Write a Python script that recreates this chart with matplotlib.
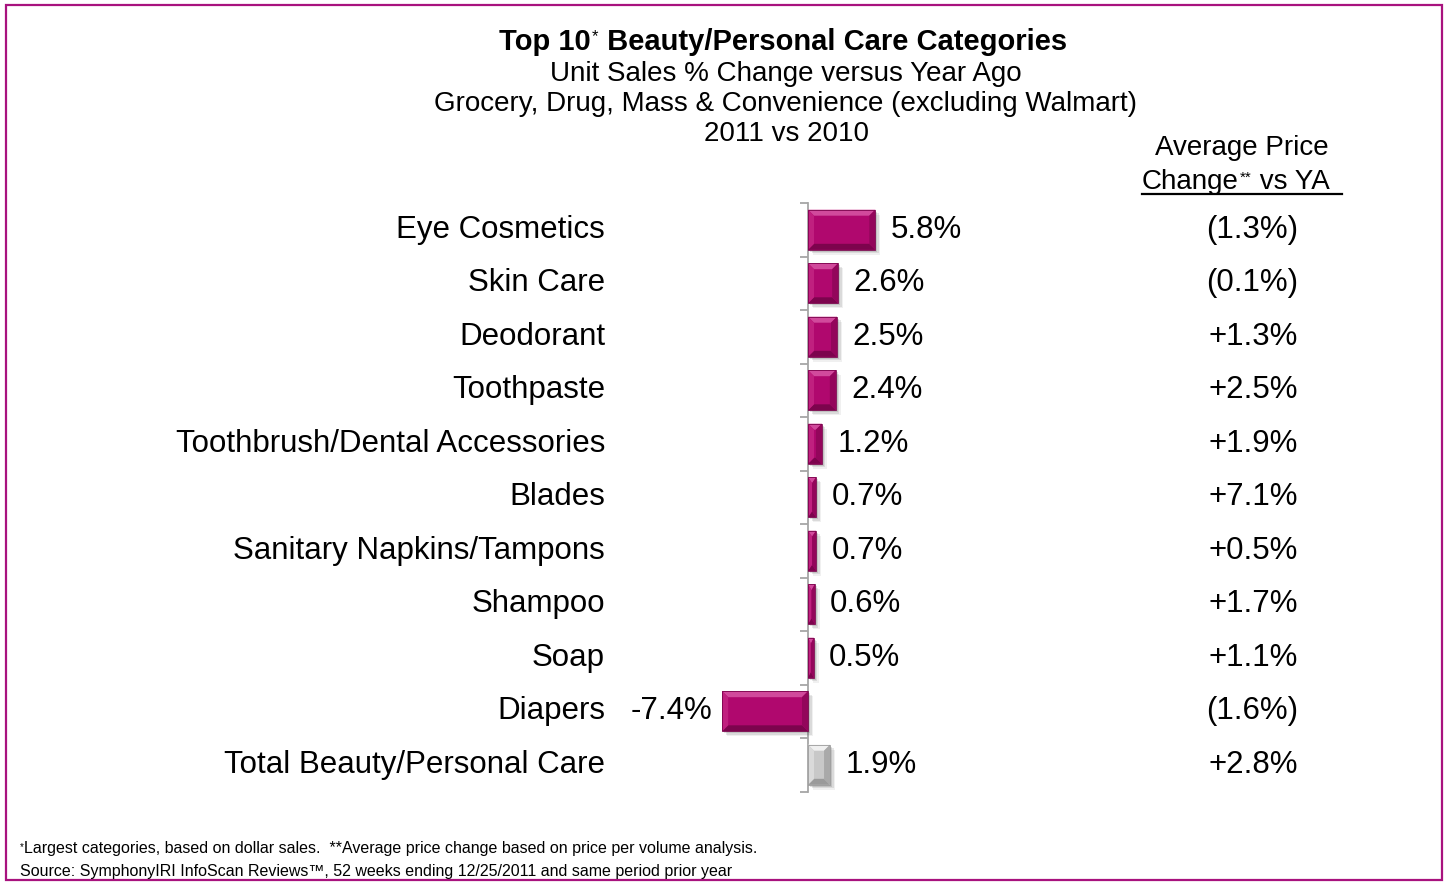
import numpy as np
import matplotlib
matplotlib.use("Agg")
import matplotlib.pyplot as plt
from matplotlib import transforms
from matplotlib.patches import Polygon, Rectangle
from matplotlib.lines import Line2D
from matplotlib import font_manager

# Category rows, top to bottom
categories = [
    "Eye Cosmetics", "Skin Care", "Deodorant", "Toothpaste",
    "Toothbrush/Dental Accessories", "Blades", "Sanitary Napkins/Tampons",
    "Shampoo", "Soap", "Diapers", "Total Beauty/Personal Care",
]
unit_change = [5.8, 2.6, 2.5, 2.4, 1.2, 0.7, 0.7, 0.6, 0.5, -7.4, 1.9]
price_change = ["(1.3%)", "(0.1%)", "+1.3%", "+2.5%", "+1.9%", "+7.1%",
                "+0.5%", "+1.7%", "+1.1%", "(1.6%)", "+2.8%"]

W, H = 1448, 884
MAGENTA = dict(face="#B0086E", top="#D14A9C", left="#C0207F",
               right="#93065B", bottom="#7C044D")
GRAY = dict(face="#C8C8C8", top="#F0F0F0", left="#DADADA",
            right="#A9A9A9", bottom="#9A9A9A")

installed = {f.name for f in font_manager.fontManager.ttflist}
FONT = "Liberation Sans"
NARROW = "Liberation Sans Narrow" if "Liberation Sans Narrow" in installed else FONT
plt.rcParams["font.family"] = FONT
ROW_FS = 22.5


def fx(px):
    return px / W


def fy(py):
    return 1 - py / H


fig = plt.figure(figsize=(W / 100, H / 100), dpi=100)

# plot area: zero line at x=808px, 11.6 px per percentage point
ax_left, ax_right = 700, 1000
ax_top, ax_bottom = 203, 791.5
px_per_pct = 11.6
ax = fig.add_axes([fx(ax_left), fy(ax_bottom),
                   (ax_right - ax_left) / W, (ax_bottom - ax_top) / H])
ax.set_xlim(-(808 - ax_left) / px_per_pct, (ax_right - 808) / px_per_pct)
ax.set_ylim(len(categories) - 0.5, -0.5)
ax.patch.set_alpha(0)

y = np.arange(len(categories))
colors = [MAGENTA["face"]] * (len(categories) - 1) + [GRAY["face"]]
bars = ax.barh(y, unit_change, height=0.75, color=colors, zorder=3)

# data units per pixel, used for bevel and shadow sizes
dx = 1 / px_per_pct
dy = len(categories) / (ax_bottom - ax_top)

for bar, val in zip(bars, unit_change):
    pal = GRAY if bar.get_facecolor()[0] > 0.7 else MAGENTA
    x0, w = bar.get_x(), bar.get_width()
    x0, x1 = min(x0, x0 + w), max(x0, x0 + w)
    y0 = bar.get_y()
    y1 = y0 + bar.get_height()
    bx = min(6 * dx, (x1 - x0) / 2)
    by = min(6 * dy, (y1 - y0) / 2)
    # soft drop shadow
    for k, a in [(5, 0.08), (3.5, 0.12), (2, 0.16)]:
        ax.add_patch(Rectangle((x0 + k * dx, y0 + k * dy), x1 - x0, y1 - y0,
                               facecolor="#404040", alpha=a, lw=0, zorder=2))
    faces = {
        "top": [(x0, y0), (x1, y0), (x1 - bx, y0 + by), (x0 + bx, y0 + by)],
        "bottom": [(x0, y1), (x1, y1), (x1 - bx, y1 - by), (x0 + bx, y1 - by)],
        "left": [(x0, y0), (x0 + bx, y0 + by), (x0 + bx, y1 - by), (x0, y1)],
        "right": [(x1, y0), (x1 - bx, y0 + by), (x1 - bx, y1 - by), (x1, y1)],
    }
    for side, pts in faces.items():
        ax.add_patch(Polygon(pts, closed=True, facecolor=pal[side],
                             lw=0, zorder=4))
    ax.add_patch(Rectangle((x0, y0), x1 - x0, y1 - y0, fill=False,
                           edgecolor=pal["bottom"], lw=0.6, zorder=5))

# value axis at zero with category separators
for s in ["top", "right", "bottom"]:
    ax.spines[s].set_visible(False)
ax.spines["left"].set_position(("data", 0))
ax.spines["left"].set_color("#A6A6A6")
ax.spines["left"].set_linewidth(1.3)
ax.spines["left"].set_zorder(1)
ax.set_xticks([])
ax.set_yticks(np.arange(-0.5, len(categories), 1))
ax.set_yticklabels([])
ax.tick_params(axis="y", direction="out", length=6, width=1.3, color="#A6A6A6")

row_tr = transforms.blended_transform_factory(fig.transFigure, ax.transData)
for i, (cat, val, pc) in enumerate(zip(categories, unit_change, price_change)):
    ax.text(fx(605), i, cat, transform=row_tr, ha="right", va="center",
            fontsize=ROW_FS)
    ax.text(fx(1298), i, pc, transform=row_tr, ha="right", va="center",
            fontsize=ROW_FS)
    if val >= 0:
        ax.annotate(f"{val:.1f}%", (val, i), xytext=(11, 0),
                    textcoords="offset points", ha="left", va="center",
                    fontsize=ROW_FS)
    else:
        ax.annotate(f"{val:.1f}%", (val, i), xytext=(-7, 0),
                    textcoords="offset points", ha="right", va="center",
                    fontsize=ROW_FS)

# titles
t1 = fig.text(fx(499), fy(50), "Top 10", fontsize=21, fontweight="bold",
              va="baseline")
star = ax.annotate("*", xy=(1, 1), xycoords=t1, xytext=(1, -1),
                   textcoords="offset points", fontsize=12, va="top", ha="left")
ax.annotate(" Beauty/Personal Care Categories", xy=(1, 0), xycoords=(star, t1),
            fontsize=21, fontweight="bold", va="bottom", ha="left")

subtitles = ["Unit Sales % Change versus Year Ago",
             "Grocery, Drug, Mass & Convenience (excluding Walmart)",
             "2011 vs 2010"]
for k, line in enumerate(subtitles):
    fig.text(fx(786), fy(81 + 30 * k), line, fontsize=20, ha="center",
             va="baseline")

fig.text(fx(1242), fy(155), "Average Price", fontsize=20, ha="center",
         va="baseline")
c1 = fig.text(fx(1142), fy(189), "Change", fontsize=20, va="baseline")
c2 = ax.annotate("**", xy=(1, 1), xycoords=c1, xytext=(1, -1),
                 textcoords="offset points", fontsize=11, va="top", ha="left")
ax.annotate(" vs YA", xy=(1, 0), xycoords=(c2, c1), fontsize=20,
            va="bottom", ha="left")
fig.add_artist(Line2D([fx(1142), fx(1342)], [fy(194), fy(194)],
                      color="black", lw=1.6))

# footnotes
f1 = fig.text(fx(20), fy(850), "*", fontsize=7, family=NARROW, va="baseline")
ax.annotate("Largest categories, based on dollar sales.  **Average price change "
            "based on price per volume analysis.", xy=(1, 0),
            xycoords=f1, xytext=(0, -3), textcoords="offset points",
            fontsize=11.5, family=NARROW, va="bottom", ha="left")
fig.text(fx(20), fy(876), "Source: SymphonyIRI InfoScan Reviews\u2122, 52 weeks "
         "ending 12/25/2011 and same period prior year", fontsize=11.5,
         family=NARROW, va="baseline")

# outer frame
fig.add_artist(Rectangle((fx(6), fy(880)), fx(1442) - fx(6), fy(5) - fy(880),
                         transform=fig.transFigure, fill=False,
                         edgecolor="#A8127E", lw=1.6))

fig.savefig("out.png", dpi=100)
